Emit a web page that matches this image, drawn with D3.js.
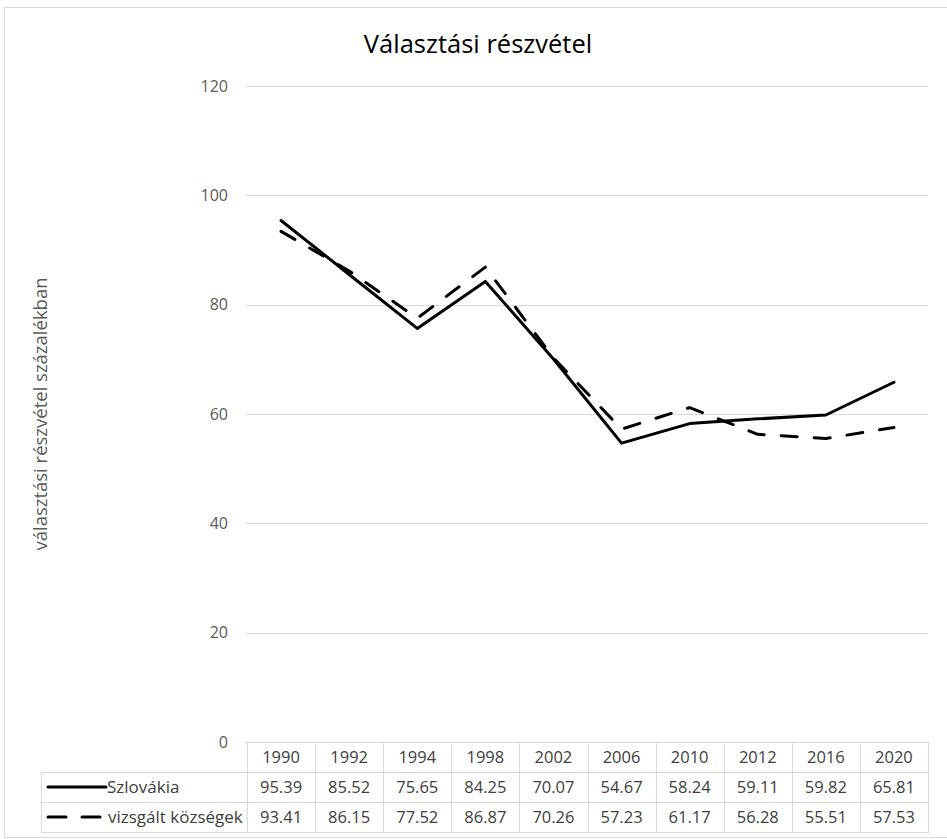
<!DOCTYPE html>
<html>
<head>
<meta charset="utf-8">
<script src="https://cdn.jsdelivr.net/npm/d3@7"></script>
<style>
  body { margin: 0; background: #fff; }
  text { font-family: "Open Sans", sans-serif; }
</style>
</head>
<body>
<script>
// chart data
var years = ["1990", "1992", "1994", "1998", "2002", "2006", "2010", "2012", "2016", "2020"];
var szlovakia = [95.39, 85.52, 75.65, 84.25, 70.07, 54.67, 58.24, 59.11, 59.82, 65.81];
var kozsegek = [93.41, 86.15, 77.52, 86.87, 70.26, 57.23, 61.17, 56.28, 55.51, 57.53];
var yTicks = [0, 20, 40, 60, 80, 100, 120];
var seriesNames = ["Szlovákia", "vizsgált községek"];

var svgWidth = 947;
var svgHeight = 839;

// plot area
var plotLeft = 247, plotRight = 928;
var plotTop = 86, plotBottom = 742;
var rowH = 30;
var legendLeft = 41;

var svg = d3.select("body")
  .append("svg")
  .attr("width", svgWidth)
  .attr("height", svgHeight);

// outer chart border
svg.append("rect")
  .attr("x", 4.5).attr("y", 7.5)
  .attr("width", 945).attr("height", 830)
  .attr("fill", "none")
  .attr("stroke", "#d9d9d9");

var xScale = d3.scaleBand()
  .domain(years)
  .range([plotLeft, plotRight]);

var yScale = d3.scaleLinear()
  .domain([0, 120])
  .range([plotBottom, plotTop]);

// gridlines
svg.append("g")
  .selectAll("line")
  .data(yTicks)
  .enter()
  .append("line")
  .attr("x1", plotLeft - 2)
  .attr("x2", plotRight)
  .attr("y1", d => Math.round(yScale(d)) + 0.5)
  .attr("y2", d => Math.round(yScale(d)) + 0.5)
  .attr("stroke", "#d9d9d9")
  .attr("stroke-width", 1);

// y axis labels
var leftAxis = d3.axisLeft(yScale).tickValues(yTicks).tickSize(0).tickPadding(0);
var yAxis = svg.append("g")
  .attr("transform", "translate(228,0)")
  .call(leftAxis);
yAxis.select(".domain").remove();
yAxis.selectAll("text")
  .attr("font-family", "Open Sans, sans-serif")
  .attr("font-size", 16)
  .attr("fill", "#595959");

// y axis title
svg.append("text")
  .attr("transform", "translate(47," + ((plotTop + plotBottom) / 2) + ") rotate(-90)")
  .attr("text-anchor", "middle")
  .attr("font-size", 18.5)
  .attr("fill", "#595959")
  .text("választási részvétel százalékban");

// title
svg.append("text")
  .attr("x", 478)
  .attr("y", 53)
  .attr("text-anchor", "middle")
  .attr("font-size", 25.5)
  .attr("fill", "#000")
  .text("Választási részvétel");

// lines
var lineGen = d3.line()
  .x((d, i) => xScale(years[i]) + xScale.bandwidth() / 2)
  .y(d => yScale(d));

var dash = "16,17";
var seriesList = [
  { name: seriesNames[0], values: szlovakia, dash: null },
  { name: seriesNames[1], values: kozsegek, dash: dash }
];

seriesList.forEach(function(s) {
  svg.append("path")
    .datum(s.values)
    .attr("d", lineGen)
    .attr("fill", "none")
    .attr("stroke", "#000")
    .attr("stroke-width", 3)
    .attr("stroke-linejoin", "round")
    .attr("stroke-linecap", "round")
    .attr("stroke-dasharray", s.dash);
});

// data table
var table = svg.append("g");
var gridColor = "#d9d9d9";
var tTop = plotBottom;

function hline(x1, x2, y) {
  table.append("line")
    .attr("x1", x1).attr("x2", x2)
    .attr("y1", y + 0.5).attr("y2", y + 0.5)
    .attr("stroke", gridColor);
}
function vline(x, y1, y2) {
  table.append("line")
    .attr("x1", x + 0.5).attr("x2", x + 0.5)
    .attr("y1", y1).attr("y2", y2)
    .attr("stroke", gridColor);
}

hline(plotLeft, plotRight, tTop);
hline(legendLeft, plotRight, tTop + rowH);
hline(legendLeft, plotRight, tTop + rowH * 2);
hline(legendLeft, plotRight, tTop + rowH * 3);
vline(legendLeft, tTop + rowH, tTop + rowH * 3 + 1);
years.forEach(function(y) {
  vline(Math.round(xScale(y)), tTop, tTop + rowH * 3 + 1);
});
vline(plotRight, tTop, tTop + rowH * 3 + 1);

// header years
table.selectAll(".yr")
  .data(years)
  .enter()
  .append("text")
  .attr("x", d => xScale(d) + xScale.bandwidth() / 2)
  .attr("y", tTop + rowH / 2)
  .attr("dy", "0.35em")
  .attr("text-anchor", "middle")
  .attr("font-size", 16.5)
  .attr("fill", "#404040")
  .text(d => d);

// value rows
seriesList.forEach(function(s, r) {
  var cy = tTop + rowH * (r + 1) + rowH / 2;
  table.selectAll(".v" + r)
    .data(s.values)
    .enter()
    .append("text")
    .attr("x", (d, i) => xScale(years[i]) + xScale.bandwidth() / 2)
    .attr("y", cy)
    .attr("dy", "0.35em")
    .attr("text-anchor", "middle")
    .attr("font-size", 16.5)
    .attr("fill", "#404040")
    .text(d => d.toFixed(2));

  // legend key
  table.append("line")
    .attr("x1", 48).attr("x2", s.dash ? 102 : 106)
    .attr("y1", cy).attr("y2", cy)
    .attr("stroke", "#000")
    .attr("stroke-width", 3)
    .attr("stroke-linecap", "round")
    .attr("stroke-dasharray", s.dash ? "18,16" : null);

  table.append("text")
    .attr("x", s.dash ? 108 : 107)
    .attr("y", cy)
    .attr("dy", "0.35em")
    .attr("font-size", 17)
    .attr("fill", "#404040")
    .text(s.name);
});
</script>
</body>
</html>
